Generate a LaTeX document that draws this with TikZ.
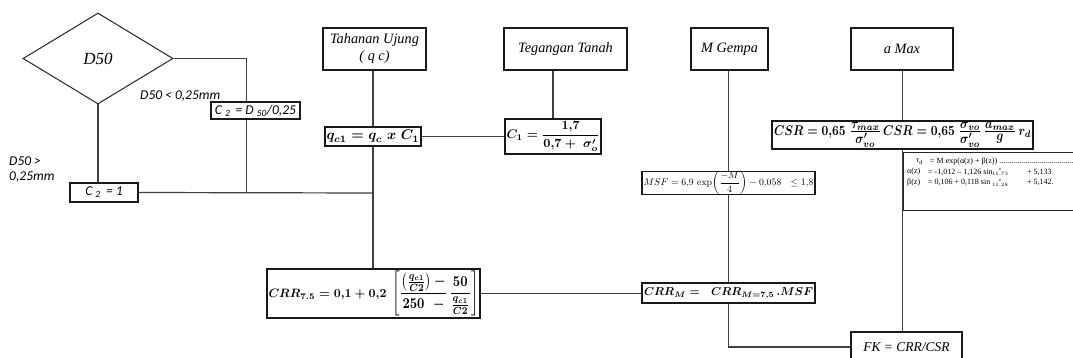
\documentclass[tikz,border=0pt]{standalone}
\usepackage{amsmath,amssymb}
\usepackage{fontspec}
\usepackage{graphicx}
\usetikzlibrary{shapes.geometric,calc}
\newfontfamily\camb{Liberation Serif}
\newfontfamily\calib{Carlito}
\newcommand{\tfr}[2]{\frac{\textstyle #1}{\textstyle #2}}
\tikzset{
  box/.style={draw=black!90, line width=1.3pt, inner sep=0pt, rectangle},
  conn/.style={draw=black!75, line width=1.2pt},
  lbl/.style={font=\camb\itshape\fontsize{14.3}{17}\selectfont, align=center},
  cal/.style={font=\calib\itshape\fontsize{13.5}{15}\selectfont, inner sep=0pt},
  tbltxt/.style={font=\camb\fontsize{8}{9}\selectfont, inner sep=0pt, anchor=west},
}
\begin{document}
\begin{tikzpicture}[x=1pt,y=-1pt]
\useasboundingbox (0,0) rectangle (1073,358);
\clip (0,0) rectangle (1073,358);
\fill[white] (0,0) rectangle (1073,358);

% decision
\node[diamond, draw=black!85, line width=1pt, minimum width=150pt, minimum height=91pt,
      inner sep=0pt, aspect=1.65, font=\camb\itshape\fontsize{17}{19}\selectfont] (d50) at (98,58.5) {D50};
\node[cal, anchor=west] (lbla) at (140,96) {D50 < 0,25mm};
\node[cal, anchor=west, align=left] (lblb) at (9,169.5) {D50 >\\0,25mm};

\node[box, minimum width=89pt, minimum height=17pt, cal] (c2b) at (255.5,110.5) {C \textsubscript{2} \,= D \textsubscript{50}/0,25};
\node[box, minimum width=68pt, minimum height=19pt, cal] (c2a) at (104,192.5) {C \textsubscript{2} \,= 1};

% top boxes
\node[box, minimum width=103pt, minimum height=42pt, lbl] (tah) at (374.5,49) {Tahanan Ujung\\( q c)};
\node[box, minimum width=123pt, minimum height=42pt, lbl] (teg) at (565.5,49) {Tegangan Tanah};
\node[box, minimum width=77pt, minimum height=42pt, lbl] (mg) at (729.5,49) {M Gempa};
\node[box, minimum width=102pt, minimum height=42pt, lbl] (amax) at (902,49) {a Max};

% formula boxes
\node[box, minimum width=96pt, minimum height=19pt] (qc1) at (373,136.5)
  {\resizebox{93pt}{!}{\boldmath$q_{c1} = q_c\ x\ C_1$}};
\node[box, minimum width=96pt, minimum height=35pt] (c1) at (553,136.5)
  {\resizebox{93pt}{!}{\boldmath$C_1 = \dfrac{1{,}7}{0{,}7 +\ \sigma'_o}$}};
\node[box, minimum width=261pt, minimum height=28pt] (csr) at (902.5,135)
  {\resizebox*{257pt}{25pt}{\boldmath$CSR = 0{,}65\ \tfr{\tau_{max}}{\sigma'_{vo}}\,CSR = 0{,}65\ \tfr{\sigma_{vo}}{\sigma'_{vo}}\,\tfr{a_{max}}{g}\,r_d$}};
\node[box, minimum width=173pt, minimum height=20pt] (msf) at (728.5,183)
  {\resizebox{170pt}{!}{$MSF = 6{,}9\,\exp\!\left(\dfrac{-M}{4}\right) - 0{,}058\ \ \leq 1{,}8$}};
\node[box, minimum width=213pt, minimum height=49pt] (crr) at (373.5,293.5)
  {\resizebox{118pt}{!}{\boldmath$CRR_{7.5} = 0{,}1 + 0{,}2$}\hspace{6pt}\resizebox*{86pt}{45pt}{\boldmath$\left[\dfrac{\left(\frac{q_{c1}}{C2}\right)-}{250\ \ -}\,\dfrac{50}{\frac{q_{c1}}{C2}}\right]$}};
\node[box, minimum width=173pt, minimum height=20pt] (crrm) at (728.5,293)
  {\resizebox{169pt}{!}{\boldmath$CRR_M =\ \ CRR_{M=7,5}\,.MSF$}};
\node[box, minimum width=111pt, minimum height=30pt, font=\camb\itshape\fontsize{13.5}{15}\selectfont] (fk) at (906.5,347) {FK = CRR/CSR};

% table
\node[draw=black!85, line width=1pt, rectangle, inner sep=0pt, minimum width=190pt, minimum height=58pt, anchor=north west] (tbl) at (903,152) {};
\node[tbltxt] (r1a) at (916,161.5) {τ\textsubscript{d}};
\node[tbltxt] (r1b) at (930,161.5) {= M exp(α(z) + β(z)) ......................................};
\node[tbltxt] (r2a) at (907,172) {α(z)};
\node[tbltxt] (r2b) at (928,172) {= -1,012 – 1,126 sin};
\node[tbltxt, anchor=center] (r2c) at (1000,172.5) {$\genfrac{}{}{0pt}{3}{z}{11{,}73}$};
\node[tbltxt] (r2d) at (1027,172) {+ 5,133};
\node[tbltxt] (r3a) at (907,182.5) {β(z)};
\node[tbltxt] (r3b) at (928,182.5) {= 0,106 + 0,118 sin};
\node[tbltxt, anchor=center] (r3c) at (1000,183) {$\genfrac{}{}{0pt}{3}{z}{11{,}28}$};
\node[tbltxt] (r3d) at (1027,182.5) {+ 5,142.};

% connectors
\coordinate (j1) at (373,193);
\draw[conn] (d50.east) -| ([xshift=36pt]c2b.north west);
\draw[conn] ([xshift=36pt]c2b.south west) -- ([xshift=36pt]c2b.south west |- c2a.east);
\draw[conn] (d50.south) -- (d50.south |- c2a.north);
\draw[conn] (c2a.east) -- (j1);
\draw[conn] (qc1.north |- tah.south) -- (qc1.north);
\draw[conn] (qc1.south) -- (qc1.south |- crr.north);
\draw[conn] (qc1.east) -- (c1.west);
\draw[conn] (c1.north |- teg.south) -- (c1.north);
\draw[conn] (crr.east) -- (crr.east -| crrm.west);
\draw[conn] (msf.north |- mg.south) -- (msf.north);
\draw[conn] (msf.south) -- (crrm.north);
\draw[conn] (crrm.south) |- (fk.west);
\draw[conn] (csr.north |- amax.south) -- (csr.north);
\draw[conn] (csr.south) -- (csr.south |- fk.north);
\end{tikzpicture}
\end{document}
